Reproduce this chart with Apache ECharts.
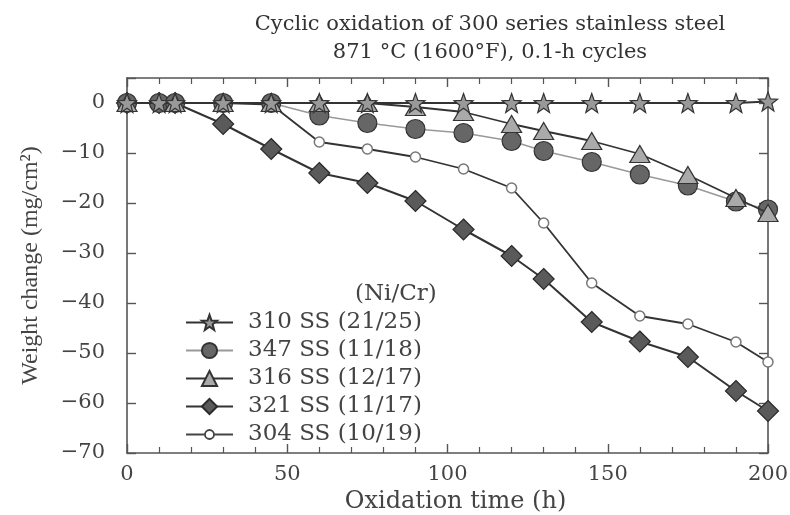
<!DOCTYPE html>
<html>
<head>
<meta charset="utf-8">
<script src="https://cdn.jsdelivr.net/npm/echarts@6/dist/echarts.min.js"></script>
<style>
  html, body { margin: 0; padding: 0; background: #fff; }
</style>
</head>
<body>
<div id="chart" style="width: 790px; height: 515px"></div>
<script>
// oxidation time (h) and weight change (mg/cm2) per alloy
var t310 = [0, 10, 15, 30, 45, 60, 75, 90, 105, 120, 130, 145, 160, 175, 190, 200];
var w310 = [0, 0, 0, 0, 0, 0, 0, 0, 0, 0, 0, 0, 0, 0, 0, 0.3];

var t347 = [0, 10, 15, 30, 45, 60, 75, 90, 105, 120, 130, 145, 160, 175, 190, 200];
var w347 = [0, 0, 0, 0, 0, -2.5, -4, -5.2, -6, -7.6, -9.6, -11.8, -14.3, -16.5, -19.7, -21.3];

var t316 = [0, 15, 30, 45, 60, 75, 90, 105, 120, 130, 145, 160, 175, 190, 200];
var w316 = [0, 0, 0, 0, 0, 0, -0.8, -1.8, -4.2, -5.6, -7.6, -10.2, -14.4, -19, -22];

var t321 = [0, 10, 15, 30, 45, 60, 75, 90, 105, 120, 130, 145, 160, 175, 190, 200];
var w321 = [0, 0, 0, -4.2, -9.2, -14, -16, -19.6, -25.3, -30.6, -35.2, -43.8, -47.7, -50.8, -57.6, -61.6];

var t304 = [0, 15, 30, 45, 60, 75, 90, 105, 120, 130, 145, 160, 175, 190, 200];
var w304 = [0, 0, 0, -0.3, -7.8, -9.2, -10.8, -13.2, -17, -24, -36, -42.6, -44.2, -47.8, -51.8];

var names = ["310 SS (21/25)", "347 SS (11/18)", "316 SS (12/17)", "321 SS (11/17)", "304 SS (10/19)"];
var xTicks = [0, 50, 100, 150, 200];
var yTicks = [0, -10, -20, -30, -40, -50, -60, -70];

var font = "DejaVu Serif";

function pairs(t, w) {
  return t.map(function (v, i) { return [v, w[i]]; });
}

var myChart = echarts.init(document.getElementById("chart"));

var axisCommon = {
  axisLine: { show: true, onZero: false, lineStyle: { color: "#555", width: 1.6 } },
  axisTick: { show: true, inside: true, length: 9, lineStyle: { color: "#555", width: 1.4 } },
  splitLine: { show: false },
};

var option = {
  backgroundColor: "#fff",
  animation: false,
  title: [
    {
      text: "Cyclic oxidation of 300 series stainless steel\n871 °C (1600°F), 0.1-h cycles",
      left: 485,
      top: 6,
      textAlign: "center",
      textStyle: { fontFamily: font, fontSize: 21, fontWeight: "normal", color: "#333", lineHeight: 28 },
    },
    {
      text: "(Ni/Cr)",
      left: 350,
      top: 278,
      textStyle: { fontFamily: font, fontSize: 23, fontWeight: "normal", color: "#444" },
    },
  ],
  legend: {
    orient: "vertical",
    left: 185,
    top: 311,
    padding: 0,
    itemWidth: 47,
    itemHeight: 19,
    itemGap: 5,
    textStyle: { fontFamily: font, fontSize: 23, color: "#444", padding: [0, 0, 0, 10] },
    data: [
      names[0], names[1], names[2], names[3],
      // line with a small open circle, same box as the other legend icons
      {
        name: names[4],
        icon: "path://M0,0 M47,19 M0,9.5 L19,9.5 M28,9.5 L47,9.5 M19,9.5 A4.5,4.5 0 1,1 28,9.5 A4.5,4.5 0 1,1 19,9.5 Z",
        itemStyle: { color: "#fff", borderColor: "#444", borderWidth: 1.8 },
      },
    ],
  },
  grid: { left: 127, right: 22, top: 78, bottom: 62, outerBoundsMode: "none" },
  xAxis: [
    Object.assign({}, axisCommon, {
      type: "value",
      min: 0,
      max: 200,
      interval: 50,
      minorTick: { show: true, splitNumber: 5, length: 6, lineStyle: { color: "#555", width: 1.2 } },
      name: "Oxidation time (h)",
      nameLocation: "middle",
      nameGap: 34,
      nameTextStyle: { fontFamily: font, fontSize: 24, color: "#444", padding: [0, 0, 0, 16] },
      axisLabel: {
        fontFamily: font, fontSize: 21, color: "#444", margin: 11,
        formatter: function (v) { return xTicks.indexOf(v) >= 0 ? String(v) : ""; },
      },
    }),
    Object.assign({}, axisCommon, {
      type: "value",
      position: "top",
      min: 0,
      max: 200,
      interval: 50,
      minorTick: { show: true, splitNumber: 5, length: 6, lineStyle: { color: "#555", width: 1.2 } },
      axisLabel: { show: false },
    }),
  ],
  yAxis: [
    Object.assign({}, axisCommon, {
      type: "value",
      min: -70,
      max: 5,
      interval: 10,
      name: "Weight change (mg/cm²)",
      nameLocation: "middle",
      nameGap: 84,
      nameTextStyle: { fontFamily: "Liberation Serif", fontSize: 24, color: "#444" },
      axisLabel: {
        fontFamily: font, fontSize: 21, color: "#444", margin: 22,
        formatter: function (v) {
          return yTicks.indexOf(v) >= 0 ? String(v).replace("-", "\u2212") : "";
        },
      },
    }),
    Object.assign({}, axisCommon, {
      type: "value",
      position: "right",
      min: -70,
      max: 5,
      interval: 10,
      axisLabel: { show: false },
    }),
  ],
  series: [
    {
      name: names[3],
      type: "line",
      data: pairs(t321, w321),
      symbol: "diamond",
      symbolSize: [21, 21],
      lineStyle: { color: "#333", width: 2 },
      itemStyle: { color: "#5a5a5a", borderColor: "#2a2a2a", borderWidth: 1.2 },
      z: 2,
    },
    {
      name: names[4],
      type: "line",
      data: pairs(t304, w304),
      symbol: "circle",
      symbolSize: 10,
      lineStyle: { color: "#333", width: 1.8 },
      itemStyle: { color: "#fff", borderColor: "#777", borderWidth: 1.5 },
      z: 3,
    },
    {
      name: names[1],
      type: "line",
      data: pairs(t347, w347),
      symbol: "circle",
      symbolSize: 19,
      lineStyle: { color: "#999", width: 1.5 },
      itemStyle: { color: "#666", borderColor: "#333", borderWidth: 1.2 },
      z: 4,
    },
    {
      name: names[2],
      type: "line",
      data: pairs(t316, w316),
      symbol: "triangle",
      symbolSize: [20, 17],
      lineStyle: { color: "#333", width: 1.8 },
      itemStyle: { color: "#aaa", borderColor: "#333", borderWidth: 1.2 },
      z: 5,
    },
    {
      name: names[0],
      type: "line",
      data: pairs(t310, w310),
      symbol: "path://M12,1 L14.8,8.6 L23,8.9 L16.5,13.9 L18.8,21.8 L12,17.2 L5.2,21.8 L7.5,13.9 L1,8.9 L9.2,8.6 Z",
      symbolSize: 19,
      lineStyle: { color: "#333", width: 2 },
      itemStyle: { color: "#999", borderColor: "#333", borderWidth: 1.2 },
      z: 6,
    },
  ],
};

window.onresize = function () {
  myChart.resize();
};
myChart.setOption(option);
</script>
</body>
</html>
